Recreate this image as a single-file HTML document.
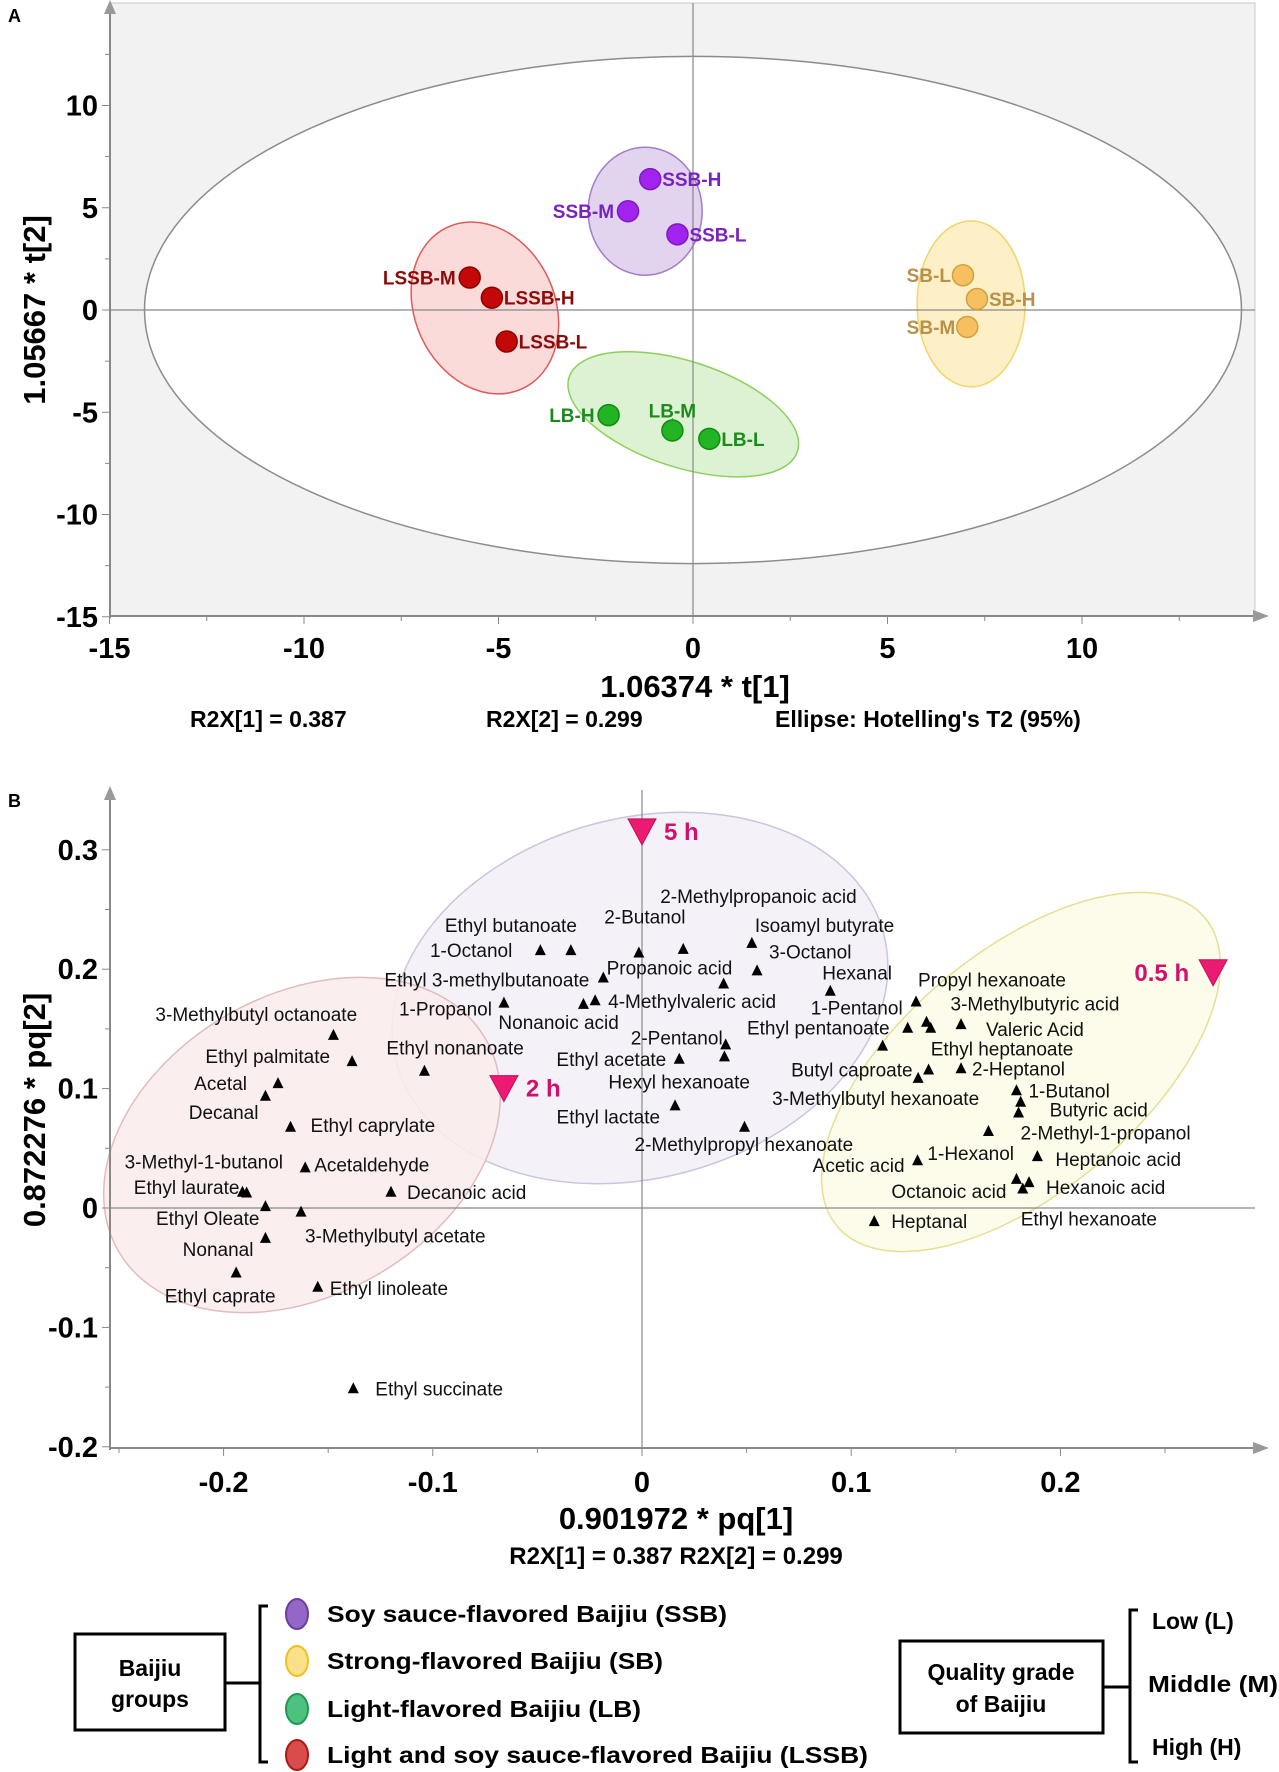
<!DOCTYPE html>
<html><head><meta charset="utf-8"><style>
html,body{margin:0;padding:0;background:#fff;}
svg{display:block;font-family:"Liberation Sans",Arial,sans-serif;}
</style></head><body>
<svg id="fig" width="1279" height="1772" viewBox="0 0 1279 1772" xmlns="http://www.w3.org/2000/svg">
<g id="panelA"></g>
<g id="panelB"></g>
<g id="legend">
  <rect x="75" y="1634" width="150" height="96" fill="#fff" stroke="#000" stroke-width="3"/>
  <text x="150" y="1676" text-anchor="middle" font-weight="bold" font-size="23">Baijiu</text>
  <text x="150" y="1707" text-anchor="middle" font-weight="bold" font-size="23">groups</text>
  <path d="M225 1683 H260 M268 1606 H260 V1762 H268" fill="none" stroke="#000" stroke-width="3"/>
  <ellipse cx="297" cy="1614" rx="11" ry="15" fill="#9466c6" stroke="#6a3ea0" stroke-width="2"/>
  <ellipse cx="297" cy="1661" rx="11" ry="15" fill="#fbe08a" stroke="#f0c020" stroke-width="2"/>
  <ellipse cx="297" cy="1709" rx="11" ry="15" fill="#4cc27e" stroke="#1f9a50" stroke-width="2"/>
  <ellipse cx="297" cy="1755" rx="11" ry="15" fill="#d84c4c" stroke="#b01818" stroke-width="2"/>
  <text x="327" y="1622" font-weight="bold" font-size="23" textLength="400" lengthAdjust="spacingAndGlyphs">Soy sauce-flavored Baijiu (SSB)</text>
  <text x="327" y="1669" font-weight="bold" font-size="23" textLength="336" lengthAdjust="spacingAndGlyphs">Strong-flavored Baijiu (SB)</text>
  <text x="327" y="1717" font-weight="bold" font-size="23" textLength="314" lengthAdjust="spacingAndGlyphs">Light-flavored Baijiu (LB)</text>
  <text x="327" y="1763" font-weight="bold" font-size="23" textLength="541" lengthAdjust="spacingAndGlyphs">Light and soy sauce-flavored Baijiu (LSSB)</text>
  <rect x="900" y="1641" width="203" height="92" fill="#fff" stroke="#000" stroke-width="3"/>
  <text x="1001" y="1680" text-anchor="middle" font-weight="bold" font-size="23">Quality grade</text>
  <text x="1001" y="1712" text-anchor="middle" font-weight="bold" font-size="23">of Baijiu</text>
  <path d="M1103 1687 H1130 M1138 1610 H1130 V1762 H1138" fill="none" stroke="#000" stroke-width="3"/>
  <text x="1152" y="1629" font-weight="bold" font-size="23">Low (L)</text>
  <text x="1148" y="1692" font-weight="bold" font-size="23" textLength="130" lengthAdjust="spacingAndGlyphs">Middle (M)</text>
  <text x="1152" y="1755" font-weight="bold" font-size="23">High (H)</text>
</g>
</svg>
<script>
// ---------- Panel A data ----------
const aLabels = ["SSB-H","SSB-M","SSB-L","LSSB-M","LSSB-H","LSSB-L","SB-L","SB-H","SB-M","LB-H","LB-M","LB-L"];
const aT1 = [-1.1,-1.67,-0.4,-5.74,-5.17,-4.79,6.94,7.3,7.05,-2.17,-0.53,0.42];
const aT2 = [6.4,4.83,3.7,1.59,0.6,-1.54,1.7,0.54,-0.83,-5.14,-5.89,-6.3];
const aGroup = ["SSB","SSB","SSB","LSSB","LSSB","LSSB","SB","SB","SB","LB","LB","LB"];
const aXTicks = [-15,-10,-5,0,5,10];
const aYTicks = [10,5,0,-5,-10,-15];
// ---------- Panel B data ----------
const bNames = ["1-Octanol","Ethyl butanoate","2-Butanol","2-Methylpropanoic acid","Isoamyl butyrate","3-Octanol","Propanoic acid","Ethyl 3-methylbutanoate","1-Propanol","Nonanoic acid","4-Methylvaleric acid","Hexanal","2-Pentanol","Ethyl acetate","Hexyl hexanoate","Ethyl lactate","2-Methylpropyl hexanoate","Ethyl nonanoate","3-Methylbutyl octanoate","Ethyl palmitate","Acetal","Decanal","Ethyl caprylate","3-Methyl-1-butanol","Ethyl laurate","Acetaldehyde","Ethyl Oleate","Nonanal","3-Methylbutyl acetate","Ethyl caprate","Ethyl linoleate","Decanoic acid","Ethyl succinate","Propyl hexanoate","3-Methylbutyric acid","1-Pentanol","Ethyl pentanoate","Valeric Acid","Ethyl heptanoate","Butyl caproate","2-Heptanol","3-Methylbutyl hexanoate","1-Butanol","Butyric acid","2-Methyl-1-propanol","1-Hexanol","Acetic acid","Heptanoic acid","Hexanoic acid","Octanoic acid","Ethyl hexanoate","Heptanal"];
const bPq1 = [-0.0486,-0.034,-0.0015,0.0197,0.0525,0.055,0.039,-0.0185,-0.066,-0.028,-0.0224,0.09,0.04,0.0178,0.0394,0.0158,0.049,-0.104,-0.1475,-0.1386,-0.174,-0.18,-0.168,-0.189,-0.191,-0.161,-0.18,-0.18,-0.163,-0.194,-0.155,-0.12,-0.138,0.131,0.136,0.127,0.115,0.1525,0.138,0.137,0.1525,0.132,0.179,0.181,0.180,0.1656,0.1317,0.189,0.185,0.179,0.182,0.111];
const bPq2 = [0.216,0.216,0.214,0.217,0.222,0.199,0.188,0.193,0.172,0.171,0.174,0.182,0.137,0.125,0.127,0.086,0.068,0.115,0.145,0.123,0.1046,0.094,0.068,0.013,0.0136,0.034,0.0016,-0.025,-0.003,-0.054,-0.066,0.0136,-0.151,0.173,0.156,0.151,0.136,0.154,0.151,0.116,0.117,0.109,0.0986,0.089,0.080,0.0645,0.04,0.0434,0.0217,0.0244,0.0163,-0.011];
const bTimes = ["5 h","2 h","0.5 h"];
const bTimePq1 = [0,-0.066,0.273];
const bTimePq2 = [0.315,0.1,0.197];
const bXTicks = [-0.2,-0.1,0,0.1,0.2];
const bYTicks = [0.3,0.2,0.1,0,-0.1,-0.2];
// label layout (pixel offsets, presentation only)
const bLabelLayout = [["end",-28,0],["middle",-60,-25],["middle",6,-36],["start",-23,-53],["start",3,-18],["start",12,-19],["start",-117,-16],["end",-14,2],["end",-12,6],["start",-85,18],["start",13,1],["start",-8,-18],["end",-3,-7],["end",-13,0],["start",-116,25],["end",-15,11],["start",-110,17],["start",-38,-23],["start",-178,-21],["end",-22,-5],["end",-31,0],["end",-7,16],["start",20,-2],["start",-122,-31],["end",-3,-5],["start",9,-3],["end",-6,12],["end",-12,11],["start",4,24],["middle",-16,23],["start",12,1],["start",16,0],["start",22,0],["start",2,-22],["start",24,-18],["end",-5,-20],["end",7,-18],["start",25,5],["start",0,21],["end",-16,0],["start",11,0],["start",-146,20],["start",12,0],["start",29,8],["start",2,20],["start",-61,22],["end",-13,5],["start",18,3],["start",17,5],["end",-10,12],["start",-2,30],["start",17,0]];
const aLabelLayout = [["start",12,0],["end",-14,0],["start",12,0],["end",-14,0],["start",12,0],["start",12,0],["end",-12,0],["start",12,0],["end",-12,0],["end",-14,0],["middle",0,-20],["start",12,0]];

const NS="http://www.w3.org/2000/svg";
function mk(parent,tag,attrs,text){const e=document.createElementNS(NS,tag);for(const k in attrs)e.setAttribute(k,attrs[k]);if(text!==undefined)e.textContent=text;parent.appendChild(e);return e;}

// ---------- Panel A ----------
const A=document.getElementById('panelA');
const axA=v=>693+38.9*v, ayA=v=>310-20.45*v;
const L=110,B=616,T=3,R=1255;
let e;
e=mk(A,'text',{x:8,y:22,'font-weight':'bold','font-size':18},'A');


e=mk(A,'rect',{x:L,y:T,width:R-L,height:B-T,fill:'#f2f2f2',stroke:'#c8c8c8'});


e=mk(A,'ellipse',{cx:axA(0),cy:ayA(0),rx:axA(14.1)-axA(0),ry:ayA(0)-ayA(12.4),fill:'#fff',stroke:'#8c8c8c','stroke-width':1.5});


const grpEll={SSB:[-1.23,4.83,57,64,0,'#e2d4ee','#a27ccc'],LSSB:[-5.35,0.1,70,89,-25,'#fbdada','#e05a5a'],SB:[7.15,0.3,54,83,0,'#fdf0c6','#f2d46a'],LB:[-0.25,-5.1,120,53,18,'#dcf2d2','#8ccf5c']};
for(const g in grpEll){const p=grpEll[g];const cx=axA(p[0]),cy=ayA(p[1]);
 e=mk(A,'ellipse',{cx:cx,cy:cy,rx:p[2],ry:p[3],fill:p[5],stroke:p[6],'stroke-width':1.5,transform:`rotate(${p[4]} ${cx} ${cy})`});
 
 }
e=mk(A,'line',{x1:axA(0),y1:T,x2:axA(0),y2:B,stroke:'#888','stroke-width':1.2});


e=mk(A,'line',{x1:L,y1:ayA(0),x2:R,y2:ayA(0),stroke:'#888','stroke-width':1.2});


e=mk(A,'path',{d:`M${L} ${B+2} V10 M${L} ${B} H${R}`,stroke:'#888','stroke-width':2,fill:'none'});


e=mk(A,'path',{d:`M${L-6} 14 L${L} 0 L${L+6} 14 Z M${R-2} ${B-6} L${R+14} ${B} L${R-2} ${B+6} Z`,fill:'#999'});


for(let v=-15;v<=14;v+=2.5){const x=axA(v);e=mk(A,'line',{x1:x,y1:B,x2:x,y2:B+(v%5===0?8:5),stroke:'#888'});}
for(let v=-15;v<=12.5;v+=2.5){const y=ayA(v);e=mk(A,'line',{x1:L-(v%5===0?8:5),y1:y,x2:L,y2:y,stroke:'#888'});}
aXTicks.forEach(v=>{e=mk(A,'text',{x:axA(v),y:B+42,'text-anchor':'middle','font-weight':'bold','font-size':29},String(v));});
aYTicks.forEach(v=>{e=mk(A,'text',{x:L-12,y:ayA(v)+10,'text-anchor':'end','font-weight':'bold','font-size':29},String(v));});
e=mk(A,'text',{x:695,y:697,'text-anchor':'middle','font-weight':'bold','font-size':31},'1.06374 * t[1]');


e=mk(A,'text',{x:0,y:0,'text-anchor':'middle','font-weight':'bold','font-size':31,transform:'translate(45 310) rotate(-90)'},'1.05667 * t[2]');


[['R2X[1] = 0.387',190],['R2X[2] = 0.299',486],["Ellipse: Hotelling's T2 (95%)",775]].forEach(t=>{e=mk(A,'text',{x:t[1],y:727,'font-weight':'bold','font-size':23},t[0]);});
const grpCol={SSB:['#a222ee','#7a1cc0','#7a22c0'],LSSB:['#c40808','#8a0000','#8b0a0a'],SB:['#f6c060','#d0a040','#b8904a'],LB:['#22b422','#118a11','#1e8a1e']};
aLabels.forEach((n,i)=>{const x=axA(aT1[i]),y=ayA(aT2[i]);const c=grpCol[aGroup[i]];const lay=aLabelLayout[i];
 e=mk(A,'line',{x1:x,y1:y,x2:x+lay[1]*0.8,y2:y+(lay[2]?lay[2]+8:0),stroke:c[1],'stroke-width':1.2});
 
 
 e=mk(A,'circle',{cx:x,cy:y,r:10.5,fill:c[0],stroke:c[1],'stroke-width':1.5});
 
 
 e=mk(A,'text',{x:x+lay[1],y:y+lay[2]+7,'text-anchor':lay[0],'font-weight':'bold','font-size':19,fill:c[2]},n);
 
 
});

// ---------- Panel B ----------
const P=document.getElementById('panelB');
const bx=v=>642+2092*v, by=v=>1208-1194*v;
const BL=110,BB=1448,BT=790,BR=1255;
e=mk(P,'text',{x:8,y:807,'font-weight':'bold','font-size':18},'B');


[[640,998,252,180,-15,'#f3f0f7','#cdc3dc','time-ellipse-5h'],[302,1145,212,150,-30,'#f9ecec','#e2bcbc','time-ellipse-2h'],[1021,1072,240,120,-40,'#fdfce9','#e6df92','time-ellipse-0-5h']].forEach(p=>{
 e=mk(P,'ellipse',{cx:p[0],cy:p[1],rx:p[2],ry:p[3],fill:p[5],'fill-opacity':0.9,stroke:p[6],'stroke-width':1.5,transform:`rotate(${p[4]} ${p[0]} ${p[1]})`});
 
 
});
e=mk(P,'line',{x1:bx(0),y1:BT,x2:bx(0),y2:BB,stroke:'#888','stroke-width':1.2});


e=mk(P,'line',{x1:BL,y1:by(0),x2:BR,y2:by(0),stroke:'#888','stroke-width':1.2});


e=mk(P,'path',{d:`M${BL} ${BB+2} V${BT+6} M${BL} ${BB} H${BR}`,stroke:'#888','stroke-width':2,fill:'none'});


e=mk(P,'path',{d:`M${BL-6} ${BT+10} L${BL} ${BT-4} L${BL+6} ${BT+10} Z M${BR-2} ${BB-6} L${BR+14} ${BB} L${BR-2} ${BB+6} Z`,fill:'#999'});


for(let k=-25;k<=29;k+=5){const v=k/100;const x=bx(v);if(x<BL)continue;e=mk(P,'line',{x1:x,y1:BB,x2:x,y2:BB+(k%10===0?8:5),stroke:'#888'});}
for(let k=-20;k<=34;k+=5){const y=by(k/100);e=mk(P,'line',{x1:BL-(k%10===0?8:5),y1:y,x2:BL,y2:y,stroke:'#888'});}
bXTicks.forEach(v=>{e=mk(P,'text',{x:bx(v),y:BB+44,'text-anchor':'middle','font-weight':'bold','font-size':29},String(v));});
bYTicks.forEach(v=>{e=mk(P,'text',{x:BL-12,y:by(v)+10,'text-anchor':'end','font-weight':'bold','font-size':29},String(v));});
e=mk(P,'text',{x:676,y:1529,'text-anchor':'middle','font-weight':'bold','font-size':31},'0.901972 * pq[1]');


e=mk(P,'text',{x:0,y:0,'text-anchor':'middle','font-weight':'bold','font-size':31,transform:'translate(45 1110) rotate(-90)'},'0.872276 * pq[2]');


e=mk(P,'text',{x:676,y:1564,'text-anchor':'middle','font-weight':'bold','font-size':24},'R2X[1] = 0.387 R2X[2] = 0.299');


bNames.forEach((n,i)=>{const x=bx(bPq1[i]),y=by(bPq2[i]);const lay=bLabelLayout[i];
 e=mk(P,'path',{d:`M${x-5.5} ${y+5} L${x} ${y-6} L${x+5.5} ${y+5} Z`,fill:'#000'});
 
 
 e=mk(P,'text',{x:x+lay[1],y:y+lay[2]+7,'text-anchor':lay[0],'font-size':19,fill:'#111'},n);
 
 
});
bTimes.forEach((t,i)=>{const x=bx(bTimePq1[i]),y=by(bTimePq2[i]);
 e=mk(P,'path',{d:`M${x-14} ${y-13} L${x+14} ${y-13} L${x} ${y+13} Z`,fill:'#ec1a72',stroke:'#c0105a'});
 
 
 const right=i<2;
 e=mk(P,'text',{x:right?x+22:x-24,y:y+8,'text-anchor':right?'start':'end','font-weight':'bold','font-size':24,fill:'#d0106a'},t);
 
 
});
</script>
</body></html>
